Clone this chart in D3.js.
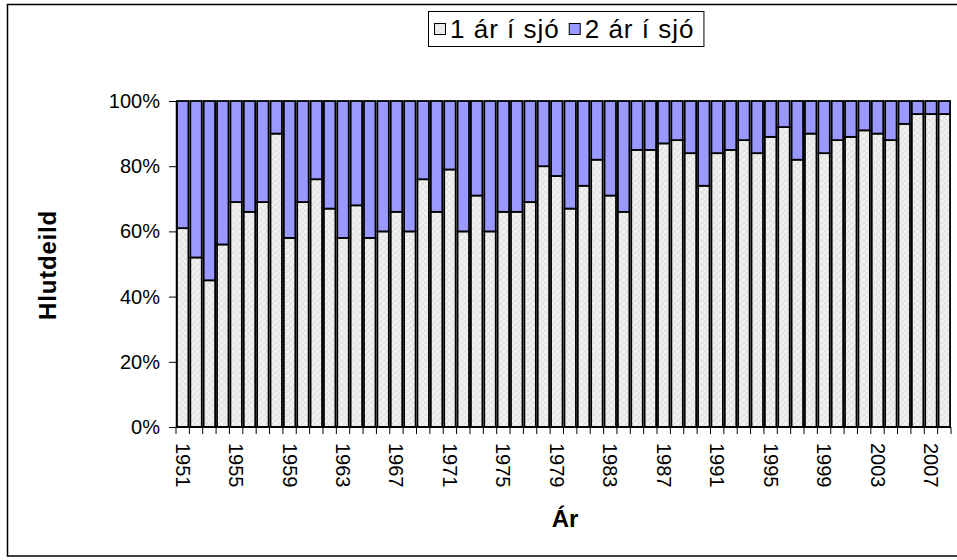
<!DOCTYPE html>
<html>
<head>
<meta charset="utf-8">
<script src="https://cdn.jsdelivr.net/npm/d3@7"></script>
<style>
  body { margin: 0; background: #fff; }
  svg { display: block; font-family: "Liberation Sans", Arial, sans-serif; }
</style>
</head>
<body>
<svg id="chart" width="957" height="560"></svg>
<script>
var years = [1951, 1952, 1953, 1954, 1955, 1956, 1957, 1958, 1959, 1960,
  1961, 1962, 1963, 1964, 1965, 1966, 1967, 1968, 1969, 1970,
  1971, 1972, 1973, 1974, 1975, 1976, 1977, 1978, 1979, 1980,
  1981, 1982, 1983, 1984, 1985, 1986, 1987, 1988, 1989, 1990,
  1991, 1992, 1993, 1994, 1995, 1996, 1997, 1998, 1999, 2000,
  2001, 2002, 2003, 2004, 2005, 2006, 2007, 2008];

// percent of fish, 1 winter at sea
var oneSea = [61, 52, 45, 56, 69, 66, 69, 90, 58, 69,
  76, 67, 58, 68, 58, 60, 66, 60, 76, 66,
  79, 60, 71, 60, 66, 66, 69, 80, 77, 67,
  74, 82, 71, 66, 85, 85, 87, 88, 84, 74,
  84, 85, 88, 84, 89, 92, 82, 90, 84, 88,
  89, 91, 90, 88, 93, 96, 96, 96];

// percent of fish, 2 winters at sea
var twoSea = [39, 48, 55, 44, 31, 34, 31, 10, 42, 31,
  24, 33, 42, 32, 42, 40, 34, 40, 24, 34,
  21, 40, 29, 40, 34, 34, 31, 20, 23, 33,
  26, 18, 29, 34, 15, 15, 13, 12, 16, 26,
  16, 15, 12, 16, 11, 8, 18, 10, 16, 12,
  11, 9, 10, 12, 7, 4, 4, 4];

var seriesNames = ['1 ár í sjó', '2 ár í sjó'];
var yTicks = [0, 20, 40, 60, 80, 100];
var labelYears = [1951, 1955, 1959, 1963, 1967, 1971, 1975, 1979, 1983, 1987,
  1991, 1995, 1999, 2003, 2007];

var colors = ['url(#grain)', '#9999ff'];

var svg = d3.select('#chart');

// speckled light grey fill like the original
var pat = svg.append('defs').append('pattern')
  .attr('id', 'grain').attr('patternUnits', 'userSpaceOnUse')
  .attr('width', 6).attr('height', 6);
pat.append('rect').attr('width', 6).attr('height', 6).attr('fill', '#ededeb');
[[0, 0], [3, 2], [1, 4], [4, 5], [5, 1], [2, 3]].forEach(function (p) {
  pat.append('rect').attr('x', p[0]).attr('y', p[1]).attr('width', 1).attr('height', 1)
    .attr('fill', '#d8d8d6');
});
[[2, 1], [4, 3], [0, 3], [5, 4]].forEach(function (p) {
  pat.append('rect').attr('x', p[0]).attr('y', p[1]).attr('width', 1).attr('height', 1)
    .attr('fill', '#f9f9f9');
});

// outer frame
svg.append('rect')
  .attr('x', 7.5).attr('y', 4.5).attr('width', 960).attr('height', 551.5)
  .attr('fill', 'none').attr('stroke', '#000').attr('stroke-width', 1.5);

var x = d3.scaleBand().domain(years).range([176, 951])
  .paddingInner(0.14).paddingOuter(0.07);
var y = d3.scaleLinear().domain([0, 100]).range([427, 101]);

var rows = years.map(function (yr, i) {
  return {year: yr, s0: oneSea[i], s1: twoSea[i]};
});
var stacked = d3.stack().keys(['s0', 's1'])(rows);

var layers = svg.append('g').selectAll('g').data(stacked).enter().append('g')
  .attr('fill', function (d, i) { return colors[i]; });

layers.selectAll('rect').data(function (d) { return d; }).enter().append('rect')
  .attr('x', function (d) { return x(d.data.year); })
  .attr('width', x.bandwidth())
  .attr('y', function (d) { return y(d[1]); })
  .attr('height', function (d) { return y(d[0]) - y(d[1]); })
  .attr('stroke', '#000').attr('stroke-width', 1.8);

// y axis
var yAxis = svg.append('g').attr('transform', 'translate(176,0)')
  .call(d3.axisLeft(y).tickValues(yTicks).tickFormat(function (d) { return d + '%'; })
    .tickSize(7).tickSizeOuter(0).tickPadding(9));
yAxis.select('.domain').attr('stroke-width', 1.5);
yAxis.selectAll('text').attr('font-size', 20).attr('fill', '#000')
  .attr('font-family', '"Liberation Sans", Arial, sans-serif');

// x axis: line and ticks at band boundaries
var step = x.step();
var gx = svg.append('g');
gx.append('line').attr('x1', 176).attr('x2', 951).attr('y1', 427).attr('y2', 427)
  .attr('stroke', '#000').attr('stroke-width', 1.5);
gx.selectAll('.tick').data(years.concat(['end'])).enter().append('line')
  .attr('class', 'tick')
  .attr('x1', function (d) { return d === 'end' ? 951 : x(d) - step * x.paddingInner() / 2; })
  .attr('x2', function (d) { return d === 'end' ? 951 : x(d) - step * x.paddingInner() / 2; })
  .attr('y1', 427).attr('y2', 434)
  .attr('stroke', '#000').attr('stroke-width', 1);

gx.selectAll('.yl').data(labelYears).enter().append('text')
  .attr('class', 'yl')
  .attr('transform', function (d) {
    return 'translate(' + (x(d) + x.bandwidth() / 2) + ',443) rotate(90)';
  })
  .attr('dy', '0.35em').attr('font-size', 20).attr('fill', '#000')
  .text(function (d) { return d; });

// axis titles
svg.append('text').attr('x', 565).attr('y', 527).attr('text-anchor', 'middle')
  .attr('font-size', 24).attr('font-weight', 'bold').text('Ár');
svg.append('text').attr('transform', 'translate(56,265) rotate(-90)')
  .attr('text-anchor', 'middle').attr('font-size', 24).attr('font-weight', 'bold')
  .attr('letter-spacing', 0.8).text('Hlutdeild');

// legend, laid out from the measured text widths
var legend = svg.append('g');
var legBox = legend.append('rect').attr('y', 11.5).attr('height', 35)
  .attr('fill', '#fff').attr('stroke', '#000').attr('stroke-width', 1);
var cx = 434;
seriesNames.forEach(function (name, i) {
  legend.append('rect').attr('x', cx + 0.5).attr('y', 23.5).attr('width', 11).attr('height', 11)
    .attr('fill', colors[i]).attr('stroke', '#000').attr('stroke-width', 1);
  var t = legend.append('text').attr('x', cx + 16).attr('y', 38).attr('font-size', 26)
    .attr('letter-spacing', 1).text(name);
  cx += 16 + t.node().getComputedTextLength() + 9;
});
legBox.attr('x', 428.5).attr('width', cx - 428);
</script>
</body>
</html>
